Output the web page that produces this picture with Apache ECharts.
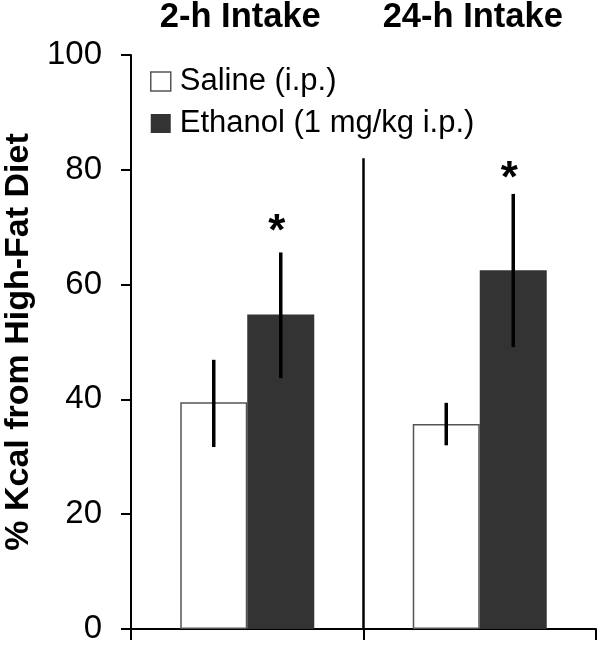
<!DOCTYPE html>
<html><head><meta charset="utf-8">
<script src="https://cdn.jsdelivr.net/npm/echarts@6/dist/echarts.min.js"></script>
<style>html,body{margin:0;padding:0;background:#fff}#c{width:600px;height:647px}</style>
</head><body><div id="c"></div>
<script>
const categories = ['2-h Intake', '24-h Intake'];
const seriesNames = ['Saline (i.p.)', 'Ethanol (1 mg/kg i.p.)'];
const salineMeans = [39.5, 35.7];
const ethanolMeans = [54.8, 62.5];
const salineErrLow = [31.7, 32.0];
const salineErrHigh = [46.9, 39.4];
const ethanolErrLow = [43.7, 49.1];
const ethanolErrHigh = [65.6, 75.8];
const starValues = [70.4, 79.6];
const yTicks = [0, 20, 40, 60, 80, 100];
const dividerTop = 82;

const FONT = "'Liberation Sans', Arial, sans-serif";
const BAR_W = 67;

const errData = [];
for (let i = 0; i < categories.length; i++) {
  errData.push([i, salineErrLow[i], salineErrHigh[i], -1]);
  errData.push([i, ethanolErrLow[i], ethanolErrHigh[i], 1]);
}
const starData = starValues.map((v, i) => [i, v]);

const chart = echarts.init(document.getElementById('c'));
chart.setOption({
  animation: false,
  backgroundColor: '#fff',
  grid: { left: 131, right: 4, top: 55, bottom: 18, containLabel: false, outerBoundsMode: 'none' },
  legend: {
    orient: 'vertical', left: 145, top: 61, itemWidth: 20, itemHeight: 19, itemGap: 11,
    selectedMode: false,
    textStyle: { fontFamily: FONT, fontSize: 31, color: '#000', padding: [0, 0, 0, 4], lineHeight: 31 },
    data: [
      { name: seriesNames[0], icon: 'rect', itemStyle: { color: '#fff', borderColor: '#555', borderWidth: 1.5 } },
      { name: seriesNames[1], icon: 'rect', itemStyle: { color: '#333', borderColor: '#333', borderWidth: 0 } }
    ]
  },
  xAxis: [
    { type: 'category', data: categories, position: 'bottom', boundaryGap: true,
      axisLine: { show: true, lineStyle: { color: '#000', width: 2 } },
      axisTick: { show: true, inside: false, length: 11, lineStyle: { color: '#000', width: 2 } },
      axisLabel: { show: false }, splitLine: { show: false } },
    { type: 'category', data: categories, position: 'top', boundaryGap: true,
      axisLine: { show: false }, axisTick: { show: false }, splitLine: { show: false },
      axisLabel: { show: true, interval: 0, hideOverlap: false, margin: 20, fontFamily: FONT, fontSize: 34.5, fontWeight: 'bold', color: '#000', padding: [0, 14, 0, 0] } }
  ],
  yAxis: {
    type: 'value', min: 0, max: 100, interval: 20,
    axisLine: { show: true, lineStyle: { color: '#000', width: 2 } },
    axisTick: { show: true, inside: false, length: 10, lineStyle: { color: '#000', width: 2 } },
    splitLine: { show: false },
    axisLabel: { margin: 29, fontFamily: FONT, fontSize: 33, color: '#000',
      formatter: v => yTicks.indexOf(v) >= 0 ? String(v) : '' },
    name: '% Kcal from High-Fat Diet', nameLocation: 'middle', nameRotate: 90, nameGap: 95,
    nameTextStyle: { fontFamily: FONT, fontSize: 34, fontWeight: 'bold', color: '#000' }
  },
  series: [
    { name: seriesNames[0], type: 'bar', data: salineMeans, barWidth: BAR_W, barGap: '0%',
      itemStyle: { color: '#fff', borderColor: '#555', borderWidth: 1.5 }, z: 2 },
    { name: seriesNames[1], type: 'bar', data: ethanolMeans, barWidth: BAR_W, barGap: '0%',
      itemStyle: { color: '#333', borderColor: '#333', borderWidth: 0 }, z: 2 },
    { type: 'custom', name: 'err', data: errData, z: 5, silent: true,
      renderItem: function (params, api) {
        const c = api.value(0);
        const lo = api.coord([c, api.value(1)]);
        const hi = api.coord([c, api.value(2)]);
        const x = lo[0] + api.value(3) * BAR_W / 2;
        return { type: 'line', shape: { x1: x, y1: lo[1], x2: x, y2: hi[1] },
          style: { stroke: '#000', lineWidth: 3.5 } };
      } },
    { type: 'custom', name: 'stars', data: starData, z: 5, silent: true,
      renderItem: function (params, api) {
        const p = api.coord([api.value(0), api.value(1)]);
        return { type: 'text', x: p[0] + BAR_W / 2 - 4, y: p[1] + 8,
          style: { text: '*', fontFamily: FONT, fontSize: 44, fontWeight: 'bold', fill: '#000', align: 'center', verticalAlign: 'middle' } };
      } }
  ]
});

const x0 = chart.convertToPixel({ xAxisIndex: 0 }, 0);
const x1 = chart.convertToPixel({ xAxisIndex: 0 }, 1);
const xd = (x0 + x1) / 2;
const yTop = chart.convertToPixel({ yAxisIndex: 0 }, dividerTop);
const yBot = chart.convertToPixel({ yAxisIndex: 0 }, 0);
chart.setOption({ graphic: [{ type: 'line', shape: { x1: xd, y1: yTop, x2: xd, y2: yBot },
  style: { stroke: '#000', lineWidth: 2.5 }, z: 10 }] });
</script></body></html>
